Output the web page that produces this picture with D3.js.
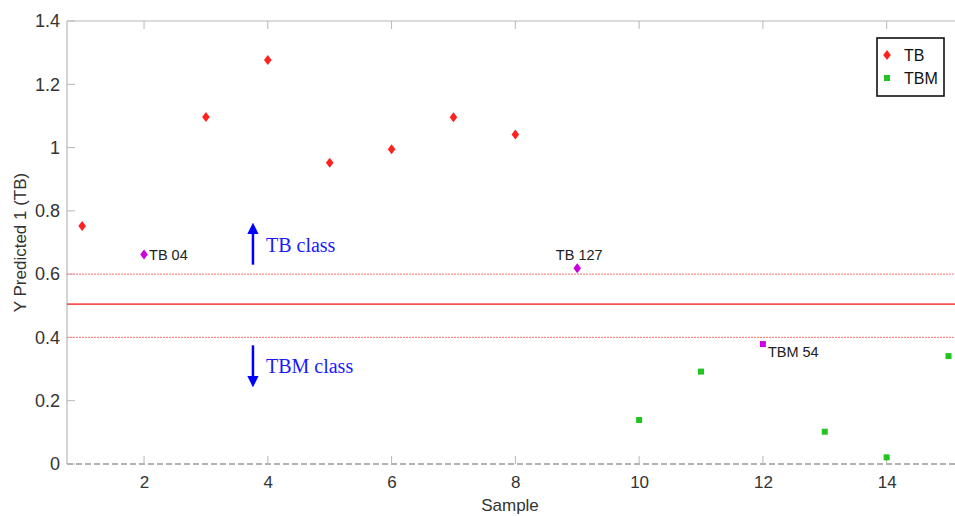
<!DOCTYPE html>
<html><head><meta charset="utf-8">
<script src="https://cdn.jsdelivr.net/npm/d3@7"></script>
<style>
body{margin:0;background:#fff;}
svg{display:block;font-family:"Liberation Sans",Arial,sans-serif;}
</style></head>
<body><svg id="c" width="955" height="516"></svg>
<script>
// Data
const tbSamples = [1,2,3,4,5,6,7,8,9];
const tbValues  = [0.752,0.662,1.097,1.277,0.952,0.995,1.096,1.041,0.619];
const tbmSamples = [10,11,12,13,14,15];
const tbmValues  = [0.139,0.292,0.379,0.102,0.021,0.341];
const highlightSamples = [2,9,12];
const pointLabels = [{s:2,text:"TB 04"},{s:9,text:"TB 127"},{s:12,text:"TBM 54"}];
const xTicks = [2,4,6,8,10,12,14];
const yTicks = [0,0.2,0.4,0.6,0.8,1,1.2,1.4];
const threshold = 0.505;
const bandLines = [0.4,0.6];

(function(){
const svg = d3.select("#c");
const W=955,H=516;
const mL=67, mT=21, mR=964, mB=464;
const x = d3.scaleLinear().domain([0.755,15.25]).range([mL,mR]);
const y = d3.scaleLinear().domain([0,1.4]).range([mB,mT]);
const axisCol="#b8b8b8", textCol="#333";

// frame
svg.append("line").attr("x1",mL).attr("x2",mL).attr("y1",mT).attr("y2",mB).attr("stroke",axisCol).attr("stroke-width",1.2);
svg.append("line").attr("x1",mL).attr("x2",W).attr("y1",mT).attr("y2",mT).attr("stroke",axisCol).attr("stroke-width",1.2);
// bottom dashed axis line at y=0
svg.append("line").attr("x1",mL).attr("x2",W).attr("y1",y(0)).attr("y2",y(0))
  .attr("stroke","#999").attr("stroke-width",1.5).attr("stroke-dasharray","6,3");

// x axis ticks/labels
const xa = d3.axisBottom(x).tickValues(xTicks).tickSize(0).tickPadding(12).tickFormat(d3.format("d"));
const gx = svg.append("g").attr("transform",`translate(0,${mB})`).call(xa);
gx.select(".domain").remove();
gx.selectAll("text").attr("font-size",17).attr("fill",textCol).attr("font-family","Liberation Sans, Arial, sans-serif");
svg.selectAll(".xt").data(xTicks).enter().append("line")
  .attr("x1",d=>x(d)).attr("x2",d=>x(d)).attr("y1",mB).attr("y2",mB-8).attr("stroke",axisCol);
svg.selectAll(".xtt").data(xTicks).enter().append("line")
  .attr("x1",d=>x(d)).attr("x2",d=>x(d)).attr("y1",mT).attr("y2",mT+8).attr("stroke",axisCol);

// y axis
const ya = d3.axisLeft(y).tickValues(yTicks).tickSize(0).tickPadding(7).tickFormat(d=>d===0?"0":d===1?"1":d3.format(".1f")(d));
const gy = svg.append("g").attr("transform",`translate(${mL},0)`).call(ya);
gy.select(".domain").remove();
gy.selectAll("text").attr("font-size",18).attr("fill",textCol).attr("font-family","Liberation Sans, Arial, sans-serif");
svg.selectAll(".yt").data(yTicks).enter().append("line")
  .attr("x1",mL).attr("x2",mL+8).attr("y1",d=>y(d)).attr("y2",d=>y(d)).attr("stroke",axisCol);

// axis titles
svg.append("text").attr("x",510).attr("y",511).attr("text-anchor","middle").attr("font-size",17).attr("fill",textCol).text("Sample");
svg.append("text").attr("transform",`translate(26,${(mT+mB)/2}) rotate(-90)`).attr("text-anchor","middle")
  .attr("font-size",17).attr("fill",textCol).text("Y Predicted 1 (TB)");

// threshold lines
svg.append("line").attr("x1",mL).attr("x2",W).attr("y1",y(threshold)).attr("y2",y(threshold)).attr("stroke","#ff5050").attr("stroke-width",1.8);
svg.selectAll(".band").data(bandLines).enter().append("line")
  .attr("x1",mL).attr("x2",W).attr("y1",d=>y(d)).attr("y2",d=>y(d))
  .attr("stroke","#ff8a8a").attr("stroke-width",1.2).attr("stroke-dasharray","2,1");

// arrows
const defs = svg.append("defs");
defs.append("marker").attr("id","ah").attr("viewBox","0 0 10 10").attr("refX",5).attr("refY",5)
  .attr("markerWidth",4.5).attr("markerHeight",4.5).attr("orient","auto-start-reverse")
  .append("path").attr("d","M0,0 L10,5 L0,10 z").attr("fill","#0000ff");
const ax = 3.76;
svg.append("line").attr("x1",x(ax)).attr("x2",x(ax)).attr("y1",y(0.63)).attr("y2",y(0.745))
  .attr("stroke","#0000ff").attr("stroke-width",2.5).attr("marker-end","url(#ah)");
svg.append("line").attr("x1",x(ax)).attr("x2",x(ax)).attr("y1",y(0.375)).attr("y2",y(0.26))
  .attr("stroke","#0000ff").attr("stroke-width",2.5).attr("marker-end","url(#ah)");
svg.append("text").attr("x",x(ax)+13).attr("y",y(0.68)+3).attr("font-family","Liberation Serif, Times New Roman, serif")
  .attr("font-size",20).attr("fill","#1a1aff").text("TB class");
svg.append("text").attr("x",x(ax)+13).attr("y",y(0.305)+6).attr("font-family","Liberation Serif, Times New Roman, serif")
  .attr("font-size",20).attr("fill","#1a1aff").text("TBM class");

// markers
const red="#ff2020", green="#22c422", magenta="#cc00dd";
const diamond = `M0,-5 L3.8,0 L0,5 L-3.8,0 Z`;
svg.selectAll(".tb").data(tbSamples.map((s,i)=>({s,v:tbValues[i]}))).enter().append("path")
  .attr("d",diamond).attr("transform",d=>`translate(${x(d.s)},${y(d.v)})`)
  .attr("fill",d=>highlightSamples.includes(d.s)?magenta:red);
svg.selectAll(".tbm").data(tbmSamples.map((s,i)=>({s,v:tbmValues[i]}))).enter().append("rect")
  .attr("x",d=>x(d.s)-3).attr("y",d=>y(d.v)-3).attr("width",6).attr("height",6)
  .attr("fill",d=>highlightSamples.includes(d.s)?magenta:green);

// point labels
const lab = svg.append("g").attr("font-size",14.5).attr("fill","#222");
pointLabels.forEach(p=>{
  const v = tbSamples.includes(p.s)? tbValues[tbSamples.indexOf(p.s)] : tbmValues[tbmSamples.indexOf(p.s)];
  let t = lab.append("text").text(p.text);
  if(p.s===2) t.attr("x",x(p.s)+5).attr("y",y(v)+5);
  else if(p.s===9) t.attr("x",x(p.s)+2).attr("y",y(v)-8).attr("text-anchor","middle");
  else t.attr("x",x(p.s)+5).attr("y",y(v)+13);
});

// legend
const lg = svg.append("g").attr("transform","translate(877,38)");
lg.append("rect").attr("width",67).attr("height",58).attr("fill","#fff").attr("stroke","#111").attr("stroke-width",1.6);
lg.append("path").attr("d",diamond).attr("transform","translate(10,17)").attr("fill",red);
lg.append("rect").attr("x",7).attr("y",37).attr("width",6).attr("height",6).attr("fill",green);
lg.append("text").attr("x",27).attr("y",23).attr("font-size",16).attr("fill","#111").text("TB");
lg.append("text").attr("x",27).attr("y",46).attr("font-size",16).attr("fill","#111").text("TBM");
})();
</script></body></html>
